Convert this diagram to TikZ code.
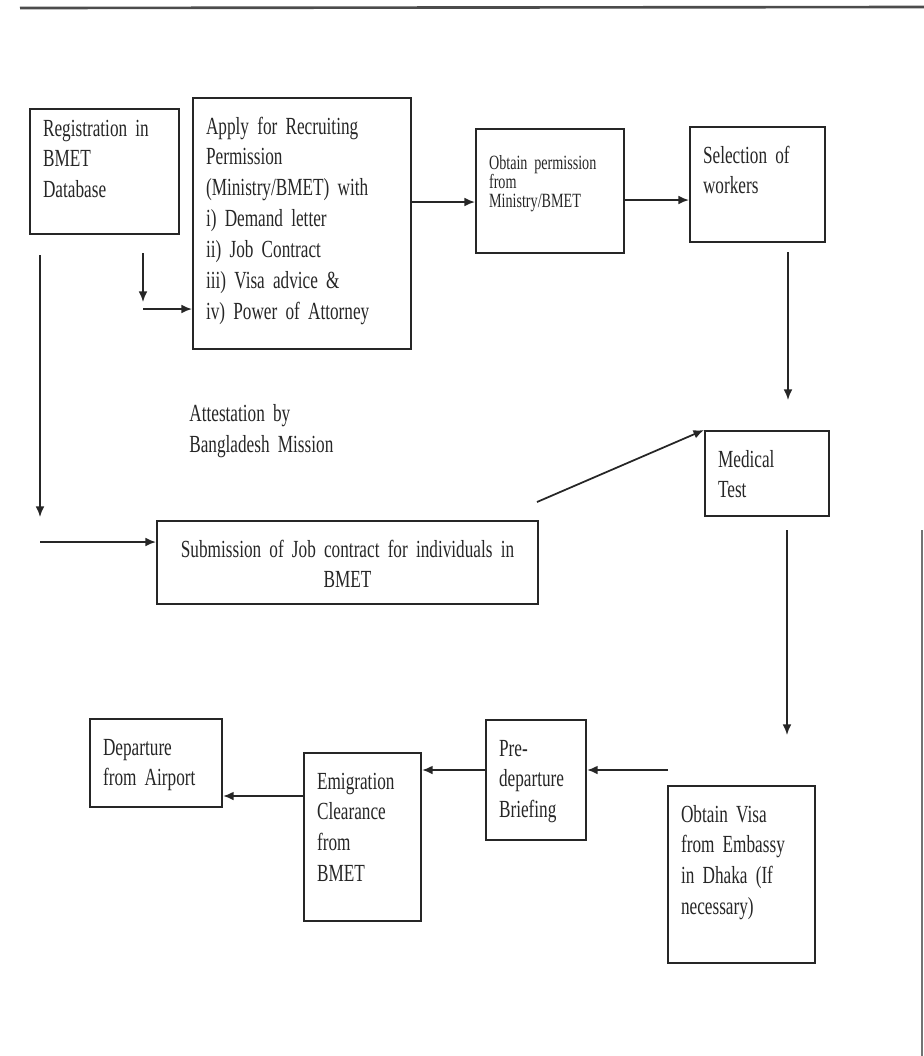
\documentclass[tikz,border=0pt]{standalone}
\usepackage{fontspec}
\setmainfont{Liberation Serif}[FakeStretch=0.70]
\usetikzlibrary{arrows.meta}

\newcommand{\boxfont}{\fontsize{14}{17.6}\selectfont}
\newcommand{\smallboxfont}{\fontsize{11.5}{11}\selectfont}

\tikzset{
  stepbox/.style={draw=black!85, text=black!85, line width=1.2pt, align=left,
    anchor=north west, inner xsep=0.26cm, inner ysep=0.32cm,
    text height=0.4cm, font=\boxfont},
  flow/.style={draw=black!85, line width=1pt, -{Latex[length=6pt,width=5pt]}},
}

\begin{document}
\begin{tikzpicture}[x=0.02cm, y=-0.02cm]
    \useasboundingbox (0,0) rectangle (924,1056);

    % Scan edges
    \draw[line width=1.5pt, black!70] (20,8) -- (924,7);
    \draw[line width=1pt, black!55] (922,530) -- (922,1056);

    % Top row
    \node[stepbox, text width=2.46cm, text height=0.22cm, text depth=1.64cm] (reg) at (29,108)
        {Registration in\\BMET\\Database};
    \node[stepbox, text width=3.84cm, text depth=3.98cm] (apply) at (192,97)
        {Apply for Recruiting\\Permission\\(Ministry/BMET) with\\i) Demand letter\\ii) Job Contract\\iii) Visa advice \&\\iv) Power of Attorney};
    \node[stepbox, font=\smallboxfont, text width=2.44cm, text height=0.48cm, text depth=1.36cm] (perm) at (475,128)
        {Obtain permission\\from\\Ministry/BMET};
    \node[stepbox, text width=2.18cm, text depth=1.26cm] (sel) at (689,126)
        {Selection of\\workers};

    % Middle
    \node[text=black!85, font=\boxfont, align=left, anchor=north west, inner sep=0pt,
        text width=5cm, text height=0.4cm] (attest) at (189,401)
        {Attestation by\\Bangladesh Mission};
    \node[stepbox, align=center, text width=7.1cm, text depth=0.62cm] (sub) at (156,520)
        {Submission of Job contract for individuals in\\BMET};
    \node[stepbox, text width=1.96cm, text depth=0.66cm] (med) at (704,430)
        {Medical\\Test};

    % Bottom row
    \node[stepbox, text width=2.12cm, text depth=0.72cm] (dep) at (89,718)
        {Departure\\from Airport};
    \node[stepbox, text width=1.82cm, text depth=2.32cm] (emi) at (303,752)
        {Emigration\\Clearance\\from\\BMET};
    \node[stepbox, text width=1.48cm, text depth=1.36cm] (pre) at (485,719)
        {Pre-\\departure\\Briefing};
    \node[stepbox, text width=2.42cm, text depth=2.5cm] (visa) at (667,785)
        {Obtain Visa\\from Embassy\\in Dhaka (If\\necessary)};

    % Free ends of the connectors
    \coordinate (regdrop) at (143,253);
    \coordinate (regdropend) at (143,302);
    \coordinate (regturn) at (143,309);
    \coordinate (applyrow) at (0,202);
    \coordinate (permrow) at (0,200);
    \coordinate (selout) at (788,252);
    \coordinate (medin) at (788,400);
    \coordinate (leftline) at (40,255);
    \coordinate (leftend) at (40,517);
    \coordinate (leftturn) at (40,542);
    \coordinate (subout) at (537,502);
    \coordinate (medout) at (787,530);
    \coordinate (visain) at (787,735);
    \coordinate (visaout) at (668,770);
    \coordinate (emirow) at (0,796);

    % Connectors
    \draw[flow] (regdrop) -- (regdropend);
    \draw[flow] (regturn) -- (apply.west |- regturn);
    \draw[flow] (apply.east |- applyrow) -- (perm.west |- applyrow);
    \draw[flow] (perm.east |- permrow) -- (sel.west |- permrow);
    \draw[flow] (selout) -- (medin);
    \draw[flow] (leftline) -- (leftend);
    \draw[flow] (leftturn) -- (sub.west |- leftturn);
    \draw[flow] (subout) -- (med.north west);
    \draw[flow] (medout) -- (visain);
    \draw[flow] (visaout) -- (pre.east |- visaout);
    \draw[flow] (pre.west |- visaout) -- (emi.east |- visaout);
    \draw[flow] (emi.west |- emirow) -- (dep.east |- emirow);
\end{tikzpicture}
\end{document}
